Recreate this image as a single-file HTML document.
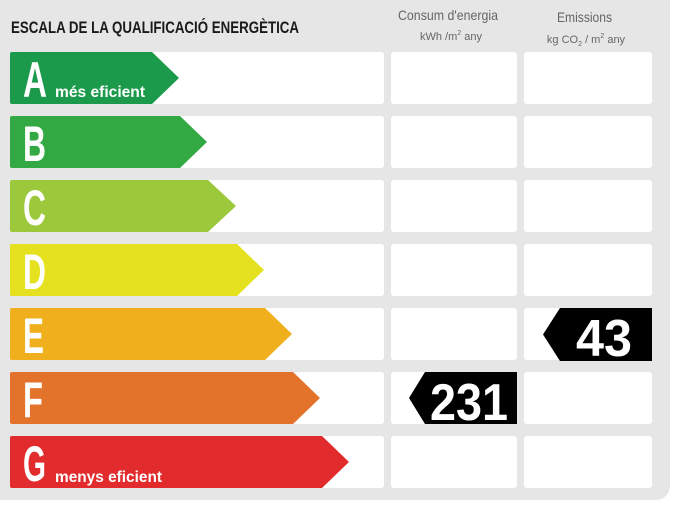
<!DOCTYPE html>
<html><head><meta charset="utf-8"><style>
html,body{margin:0;padding:0;background:#fff;}
svg{display:block;}
.L{font-family:"Liberation Sans",sans-serif;font-weight:bold;fill:#fff;}
</style></head><body>
<svg width="674" height="506" viewBox="0 0 674 506" xmlns="http://www.w3.org/2000/svg">
<rect x="-20" y="-20" width="690" height="520" rx="14" fill="#e6e6e6"/>
<text x="11" y="33" font-family="Liberation Sans,sans-serif" font-weight="bold" font-size="17" fill="#1a1a1a" textLength="288" lengthAdjust="spacingAndGlyphs">ESCALA DE LA QUALIFICACIÓ ENERGÈTICA</text>
<text x="398" y="20" font-family="Liberation Sans,sans-serif" font-size="14" fill="#666" textLength="100" lengthAdjust="spacingAndGlyphs">Consum d'energia</text>
<text x="451" y="40" text-anchor="middle" font-family="Liberation Sans,sans-serif" font-size="11" fill="#666">kWh /m<tspan font-size="7" dy="-5">2</tspan><tspan dy="5">  any</tspan></text>
<text x="557" y="22" font-family="Liberation Sans,sans-serif" font-size="14" fill="#666" textLength="55" lengthAdjust="spacingAndGlyphs">Emissions</text>
<text x="586" y="43" text-anchor="middle" font-family="Liberation Sans,sans-serif" font-size="11" fill="#666">kg CO<tspan font-size="7" dy="3">2</tspan><tspan dy="-3"> / m</tspan><tspan font-size="7" dy="-5">2</tspan><tspan dy="5"> any</tspan></text>
<g fill="#fff">
<rect x="10" y="52" width="374" height="52" rx="3"/><rect x="391" y="52" width="126" height="52" rx="3"/><rect x="524" y="52" width="128" height="52" rx="3"/>
<rect x="10" y="116" width="374" height="52" rx="3"/><rect x="391" y="116" width="126" height="52" rx="3"/><rect x="524" y="116" width="128" height="52" rx="3"/>
<rect x="10" y="180" width="374" height="52" rx="3"/><rect x="391" y="180" width="126" height="52" rx="3"/><rect x="524" y="180" width="128" height="52" rx="3"/>
<rect x="10" y="244" width="374" height="52" rx="3"/><rect x="391" y="244" width="126" height="52" rx="3"/><rect x="524" y="244" width="128" height="52" rx="3"/>
<rect x="10" y="308" width="374" height="52" rx="3"/><rect x="391" y="308" width="126" height="52" rx="3"/><rect x="524" y="308" width="128" height="52" rx="3"/>
<rect x="10" y="372" width="374" height="52" rx="3"/><rect x="391" y="372" width="126" height="52" rx="3"/><rect x="524" y="372" width="128" height="52" rx="3"/>
<rect x="10" y="436" width="374" height="52" rx="3"/><rect x="391" y="436" width="126" height="52" rx="3"/><rect x="524" y="436" width="128" height="52" rx="3"/>
</g>
<path d="M12 52H152L179 78L152 104H12Q10 104 10 102V54Q10 52 12 52Z" fill="#1b9a4b"/>
<path d="M12 116H180L207 142L180 168H12Q10 168 10 166V118Q10 116 12 116Z" fill="#33a943"/>
<path d="M12 180H208L236 206L208 232H12Q10 232 10 230V182Q10 180 12 180Z" fill="#9cc83b"/>
<path d="M12 244H237L264 270L237 296H12Q10 296 10 294V246Q10 244 12 244Z" fill="#e6e11f"/>
<path d="M12 308H265L292 334L265 360H12Q10 360 10 358V310Q10 308 12 308Z" fill="#f0b01e"/>
<path d="M12 372H293L320 398L293 424H12Q10 424 10 422V374Q10 372 12 372Z" fill="#e3732a"/>
<path d="M12 436H322L349 462L322 488H12Q10 488 10 486V438Q10 436 12 436Z" fill="#e12b2c"/>
<g class="L" font-size="50">
<text x="23" y="97" textLength="24" lengthAdjust="spacingAndGlyphs">A</text>
<text x="23" y="161" textLength="23" lengthAdjust="spacingAndGlyphs">B</text>
<text x="23" y="225" textLength="23" lengthAdjust="spacingAndGlyphs">C</text>
<text x="23" y="289" textLength="23" lengthAdjust="spacingAndGlyphs">D</text>
<text x="23" y="353" textLength="21" lengthAdjust="spacingAndGlyphs">E</text>
<text x="23" y="417" textLength="20" lengthAdjust="spacingAndGlyphs">F</text>
<text x="23" y="481" textLength="23" lengthAdjust="spacingAndGlyphs">G</text>
</g>
<text x="55" y="97" font-family="Liberation Sans,sans-serif" font-weight="bold" font-size="16" fill="#fff" textLength="90" lengthAdjust="spacingAndGlyphs">més eficient</text>
<text x="55" y="482" font-family="Liberation Sans,sans-serif" font-weight="bold" font-size="16" fill="#fff" textLength="107" lengthAdjust="spacingAndGlyphs">menys eficient</text>
<path d="M560 308H652V361H560L543 334.5Z" fill="#000"/>
<path d="M425 372H517V424H425L409 398Z" fill="#000"/>
<g class="L" font-size="52">
<text x="576" y="356" textLength="56" lengthAdjust="spacingAndGlyphs">43</text>
<text x="430" y="420" textLength="78" lengthAdjust="spacingAndGlyphs">231</text>
</g>
</svg>
</body></html>
